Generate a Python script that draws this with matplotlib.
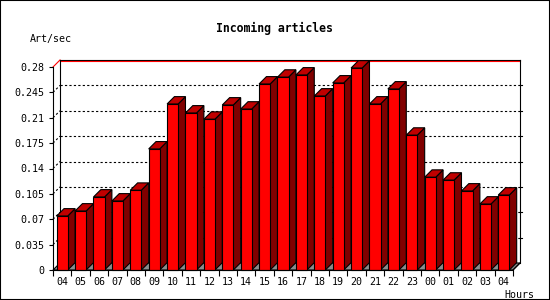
import numpy as np
import matplotlib
matplotlib.use('Agg')
import matplotlib.pyplot as plt
from matplotlib.patches import Polygon, Rectangle

# data
hours = ['04', '05', '06', '07', '08', '09', '10', '11', '12', '13', '14', '15', '16',
         '17', '18', '19', '20', '21', '22', '23', '00', '01', '02', '03', '04']
rate = [0.0745, 0.0814, 0.1007, 0.0952, 0.110, 0.167, 0.229, 0.2166, 0.208, 0.2276,
        0.222, 0.2566, 0.266, 0.269, 0.240, 0.258, 0.2786, 0.229, 0.2497, 0.186,
        0.128, 0.124, 0.109, 0.091, 0.1034]
yticks = [0, 0.035, 0.07, 0.105, 0.14, 0.175, 0.21, 0.245, 0.28]
ytick_labels = ['0', '0.035', '0.07', '0.105', '0.14', '0.175', '0.21', '0.245', '0.28']

plt.rcParams['font.family'] = 'DejaVu Sans Mono'

fig = plt.figure(figsize=(5.5, 3), dpi=100)
ax = fig.add_axes([53 / 550, 30 / 300, 460 / 550, 203 / 300])
n = len(rate)
ymax = yticks[-1]
ax.set_xlim(0, n)
ax.set_ylim(0, ymax)
ax.patch.set_visible(False)

# depth of the fake 3d effect (about 7 px)
dx = 7 / 460 * n
dy = 7 / 203 * ymax
px = ymax / 203
lw = 0.8

# back wall
for t in yticks[1:-1]:
    ax.plot([dx, n + dx], [t + dy, t + dy], color='black', lw=lw, ls=(0, (2, 2)),
            zorder=1, clip_on=False)
    ax.plot([0, dx], [t, t + dy], color='black', lw=lw, ls=(0, (2, 2)),
            zorder=1, clip_on=False)
    ax.plot([n + dx, n + dx + 0.12], [t + dy, t + dy], color='black', lw=lw,
            zorder=1, clip_on=False)
ax.plot([dx, n + dx], [ymax + dy, ymax + dy], color='black', lw=lw, zorder=1, clip_on=False)
ax.plot([dx, n + dx], [ymax + dy - px, ymax + dy - px], color='#ff0000', lw=lw,
        zorder=1, clip_on=False)
ax.plot([0, dx], [ymax, ymax + dy], color='#ff0000', lw=lw, zorder=1, clip_on=False)
ax.plot([dx, dx], [dy, ymax + dy], color='black', lw=lw, zorder=1, clip_on=False)
ax.plot([n + dx, n + dx], [dy, ymax + dy], color='black', lw=lw, zorder=1, clip_on=False)

# floor
floor = Polygon([(0, 0), (n, 0), (n + dx, dy), (dx, dy)], closed=True,
                fc='#8c8c8c', ec='black', lw=lw, zorder=2, clip_on=False)
ax.add_patch(floor)

# bars, left to right so each one hides the side of the previous
w = 0.6
bdx = 1 - w
bdy = dy * bdx / dx
for i, v in enumerate(rate):
    x0 = i + 0.5 - w / 2
    x1 = x0 + w
    z = 3 + i
    side = Polygon([(x1, 0), (x1 + bdx, bdy), (x1 + bdx, v + bdy), (x1, v)], closed=True,
                   fc='#800000', ec='black', lw=lw, zorder=z, clip_on=False)
    top = Polygon([(x0, v), (x1, v), (x1 + bdx, v + bdy), (x0 + bdx, v + bdy)], closed=True,
                  fc='#c00000', ec='black', lw=lw, zorder=z, clip_on=False)
    ax.add_patch(side)
    ax.add_patch(top)
    ax.bar(i + 0.5, v, width=w, color='#ff0000', edgecolor='black', lw=lw,
           zorder=z, clip_on=False)

ax.plot([n, n + dx], [0, dy], color='black', lw=lw, zorder=40, clip_on=False)

# axes and ticks
ax.set_yticks(yticks, ytick_labels)
ax.set_xticks(np.arange(n) + 0.5, hours)
ax.set_xticks(np.arange(n + 1), minor=True)
ax.tick_params(axis='x', which='major', length=0, pad=5, labelsize=7.2)
ax.tick_params(axis='x', which='minor', length=4, width=lw)
ax.tick_params(axis='y', length=3, width=lw, pad=3, labelsize=7.2)
for s in ['top', 'right']:
    ax.spines[s].set_visible(False)
for s in ['left', 'bottom']:
    ax.spines[s].set_linewidth(lw)
    ax.spines[s].set_zorder(50)

fig.text(274 / 550, 1 - 28 / 300, 'Incoming articles', ha='center', va='center',
         fontsize=8.3, fontweight='bold')
fig.text(30 / 550, 1 - 39 / 300, 'Art/sec', ha='left', va='center', fontsize=7.2)
fig.text(534 / 550, 1 - 294.5 / 300, 'Hours', ha='right', va='center', fontsize=7.2)

fig.add_artist(Rectangle((0, 0), 1, 1, transform=fig.transFigure, fill=False,
                         ec='black', lw=1.5))

fig.savefig('out.png', dpi=100)
